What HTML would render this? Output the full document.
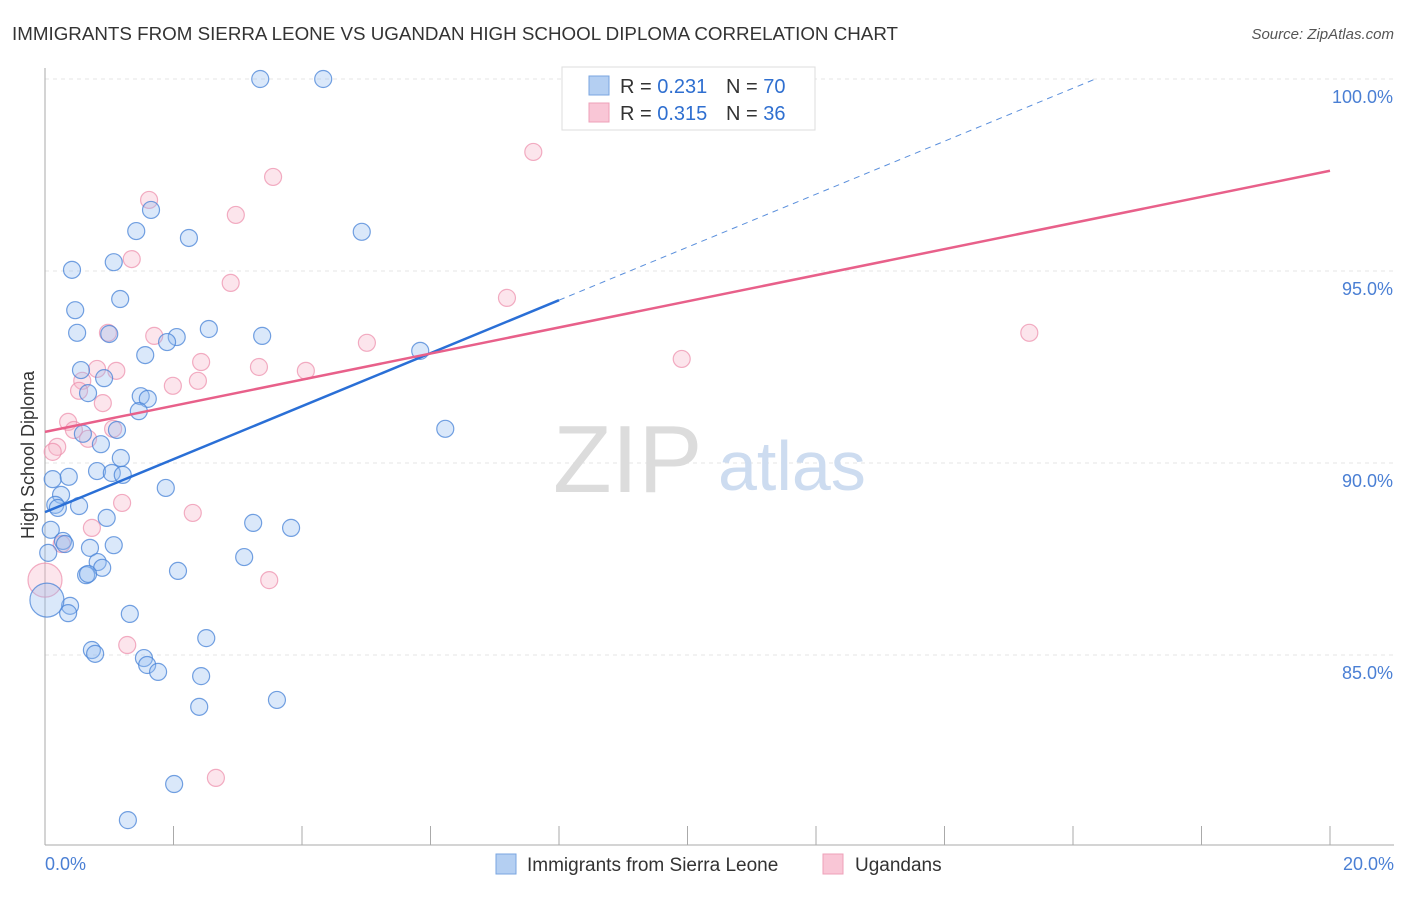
<!DOCTYPE html>
<html><head><meta charset="utf-8"><style>
body{margin:0;background:#fff;font-family:"Liberation Sans",sans-serif}
svg text{font-family:"Liberation Sans",sans-serif}
</style></head><body>
<svg id="chart" width="1406" height="892" viewBox="0 0 1406 892" xmlns="http://www.w3.org/2000/svg">
<text x="12" y="40" font-size="18" fill="#333" textLength="886" lengthAdjust="spacingAndGlyphs">IMMIGRANTS FROM SIERRA LEONE VS UGANDAN HIGH SCHOOL DIPLOMA CORRELATION CHART</text>
<text x="1394" y="39" font-size="15" fill="#555" font-style="italic" text-anchor="end">Source: ZipAtlas.com</text>
<g id="grid"></g>
<g>
<text x="553" y="492" font-size="96" fill="#dcdcdc" font-family="Liberation Serif">ZIP</text>
<text x="718" y="490" font-size="70" fill="#cddcf0">atlas</text>
</g>
<text transform="translate(34,455) rotate(-90)" font-size="18" fill="#333" text-anchor="middle">High School Diploma</text>
<g id="marks"></g>
<g>
<rect x="562" y="67" width="253" height="63" fill="#fff" stroke="#ddd"/>
<rect x="589" y="76" width="20" height="19" fill="#b4cff2" stroke="#7aa6e0"/>
<rect x="589" y="103" width="20" height="19" fill="#f9c6d6" stroke="#eea0b8"/>
<text x="620" y="93" font-size="20" fill="#333">R = <tspan fill="#2f6fd0">0.231</tspan></text>
<text x="726" y="93" font-size="20" fill="#333">N = <tspan fill="#2f6fd0">70</tspan></text>
<text x="620" y="120" font-size="20" fill="#333">R = <tspan fill="#2f6fd0">0.315</tspan></text>
<text x="726" y="120" font-size="20" fill="#333">N = <tspan fill="#2f6fd0">36</tspan></text>
</g>
<g>
<rect x="496" y="854" width="20" height="20" fill="#b4cff2" stroke="#7aa6e0"/>
<text x="527" y="871" font-size="19" fill="#333">Immigrants from Sierra Leone</text>
<rect x="823" y="854" width="20" height="20" fill="#f9c6d6" stroke="#eea0b8"/>
<text x="855" y="871" font-size="19" fill="#333">Ugandans</text>
</g>
</svg>
<script>
const yTicks=[85,90,95,100];
const yTickLabels=["85.0%","90.0%","95.0%","100.0%"];
const xTickCount=10;
const xLabels=["0.0%","20.0%"];
const blueX=[3.35,4.33,1.65,1.42,2.24,4.93,0.42,1.07,1.17,0.47,0.50,1.00,1.56,2.05,1.90,2.55,3.38,5.84,0.56,0.92,0.67,1.49,1.60,1.46,0.59,1.12,0.87,6.23,1.18,0.12,0.37,0.81,1.04,1.21,0.25,0.16,0.20,0.53,1.88,0.96,3.24,3.83,0.09,0.28,0.31,0.70,1.07,0.05,3.10,0.82,0.89,0.64,0.67,2.07,0.39,0.36,1.32,2.51,0.73,0.78,1.54,1.59,1.76,2.43,3.61,2.40,2.01,1.29,0.03];
const blueY=[100.0,100.0,96.59,96.04,95.86,96.02,95.03,95.23,94.27,93.98,93.39,93.36,92.81,93.28,93.15,93.49,93.31,92.92,92.42,92.21,91.82,91.74,91.67,91.35,90.76,90.86,90.49,90.89,90.13,89.58,89.64,89.79,89.74,89.69,89.17,88.91,88.83,88.88,89.35,88.57,88.44,88.31,88.26,87.97,87.89,87.79,87.86,87.66,87.55,87.42,87.27,87.08,87.11,87.19,86.28,86.09,86.07,85.44,85.13,85.03,84.92,84.74,84.56,84.45,83.83,83.65,81.64,80.70,86.43];
const blueBig=[68];
const pinkX=[7.60,1.62,3.55,2.97,1.35,2.89,7.19,0.98,1.70,5.01,2.43,3.33,4.06,9.91,15.32,0.81,1.11,0.58,0.53,1.99,2.38,0.90,0.36,0.45,1.06,0.67,0.19,0.12,1.20,2.30,0.73,0.26,0.00,3.49,1.28,2.66];
const pinkY=[98.10,96.85,97.45,96.46,95.31,94.69,94.30,93.39,93.31,93.13,92.63,92.50,92.40,92.71,93.39,92.45,92.40,92.14,91.88,92.01,92.14,91.56,91.07,90.86,90.89,90.63,90.42,90.29,88.96,88.70,88.31,87.89,86.95,86.95,85.26,81.80];
const pinkBig=[32];
const blueTrend=[88.72,0.69];
const pinkTrend=[90.81,0.34];

const NS="http://www.w3.org/2000/svg";
const X=v=>45+v/20*1285;
const Y=v=>79+(100-v)*38.4;
function mk(t,a,p){const e=document.createElementNS(NS,t);for(const k in a)e.setAttribute(k,a[k]);p.appendChild(e);return e;}
const grid=document.getElementById('grid'),marks=document.getElementById('marks');
yTicks.forEach((t,i)=>{
 const l=mk('line',{x1:45,x2:1394,y1:Y(t),y2:Y(t),stroke:'#e4e4e4','stroke-dasharray':'4,4'},grid);
 
 
 const tx=mk('text',{x:1393,y:Y(t)+24,'font-size':18,fill:'#4a7fd4','text-anchor':'end'},grid);
 tx.textContent=yTickLabels[i];
 
 
});
const ya=mk('line',{x1:45,x2:45,y1:68,y2:845,stroke:'#aaa'},grid);


const xa=mk('line',{x1:45,x2:1394,y1:845,y2:845,stroke:'#aaa'},grid);


for(let i=0;i<=xTickCount;i++){
 const t=mk('line',{x1:X(i*2),x2:X(i*2),y1:826,y2:845,stroke:'#aaa'},grid);
 
 
}
const xl0=mk('text',{x:45,y:870,'font-size':18,fill:'#4a7fd4'},grid);xl0.textContent=xLabels[0];


const xl1=mk('text',{x:1394,y:870,'font-size':18,fill:'#4a7fd4','text-anchor':'end'},grid);xl1.textContent=xLabels[1];



function pts(xs,ys,big,fill,stroke,name){
 xs.forEach((x,i)=>{
  const r=big.includes(i)?17:8.5;
  const c=mk('circle',{cx:X(x),cy:Y(ys[i]),r:r,fill:fill,stroke:stroke,'stroke-width':1.2},marks);
  
  
 });
}
pts(pinkX,pinkY,pinkBig,'rgba(246,180,200,0.35)','rgba(236,140,170,0.7)','ugandans-point');
pts(blueX,blueY,blueBig,'rgba(150,190,240,0.35)','rgba(70,130,215,0.75)','sierra-leone-point');

const bEnd=(100-blueTrend[0])/blueTrend[1];
const bl=mk('line',{x1:X(0),y1:Y(blueTrend[0]),x2:X(8),y2:Y(blueTrend[0]+8*blueTrend[1]),stroke:'#2a6fd6','stroke-width':2.5},marks);


const bd=mk('line',{x1:X(8),y1:Y(blueTrend[0]+8*blueTrend[1]),x2:X(bEnd),y2:Y(100),stroke:'#5a8fdc','stroke-width':1,'stroke-dasharray':'6,5'},marks);


const pl=mk('line',{x1:X(0),y1:Y(pinkTrend[0]),x2:X(20),y2:Y(pinkTrend[0]+20*pinkTrend[1]),stroke:'#e8608a','stroke-width':2.5},marks);


</script>
</body></html>
